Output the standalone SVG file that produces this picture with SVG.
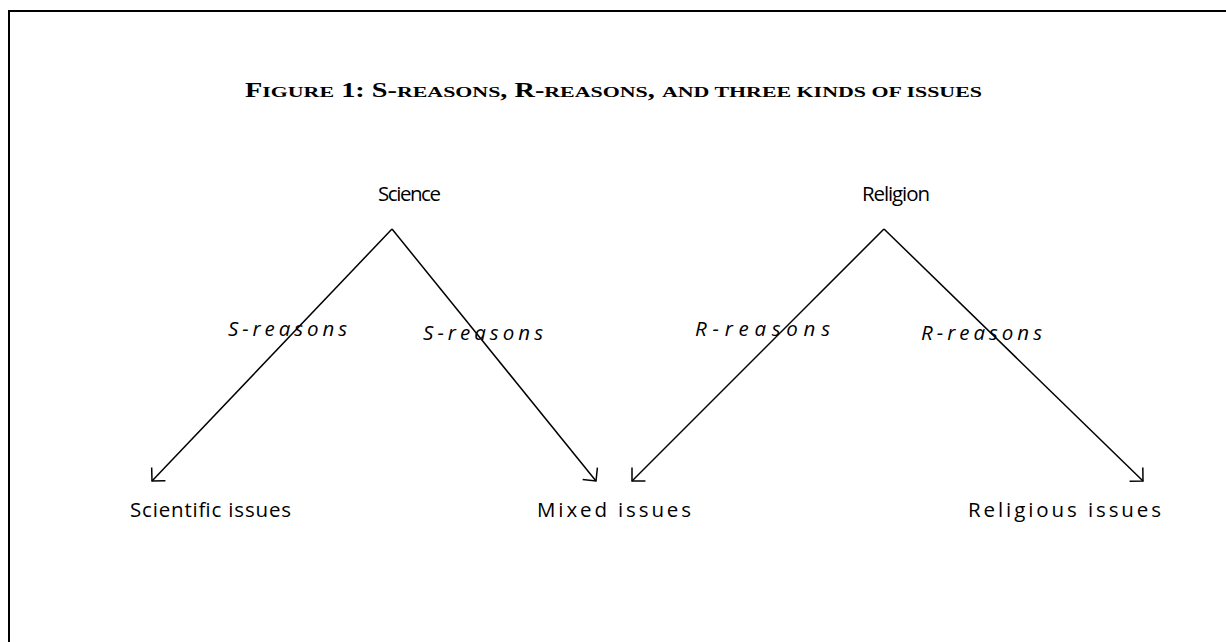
<svg xmlns="http://www.w3.org/2000/svg" width="1226" height="642" viewBox="0 0 1226 642">
  <style>
    .lbl { font-family: "Open Sans", "Noto Sans", sans-serif; font-size: 20.5px; fill: #000; }
    .rsn { font-family: "Open Sans", "Noto Sans", sans-serif; font-size: 20.5px; font-style: italic; fill: #000; }
    .title { font-family: "Liberation Serif", "DejaVu Serif", serif; font-size: 20px; font-weight: bold; fill: #000; }
    .sc { font-size: 15.5px; }
    .edge { stroke: #000; stroke-width: 1.5; fill: none; }
  </style>
  <defs>
    <marker id="arr" markerUnits="userSpaceOnUse" viewBox="-12 -12 14 24" refX="0" refY="0" markerWidth="14" markerHeight="24" orient="auto" overflow="visible">
      <path d="M-9.5,-9.5 L0,0 L-9.5,9.5" fill="none" stroke="#000" stroke-width="1.5"/>
    </marker>
  </defs>
  <rect width="1226" height="642" fill="#fff"/>
  <path d="M9,642 L9,11 L1226,11" fill="none" stroke="#000" stroke-width="2"/>
  <text class="title" x="245" y="97" textLength="737" lengthAdjust="spacingAndGlyphs">F<tspan class="sc">IGURE</tspan> 1: S-<tspan class="sc">REASONS</tspan>, R-<tspan class="sc">REASONS</tspan>, <tspan class="sc">AND THREE KINDS OF ISSUES</tspan></text>

  <g id="connectors">
    <line class="edge" x1="392" y1="229" x2="152" y2="481" marker-end="url(#arr)"/>
    <line class="edge" x1="392" y1="229" x2="596" y2="481" marker-end="url(#arr)"/>
    <line class="edge" x1="884" y1="229" x2="632" y2="481" marker-end="url(#arr)"/>
    <line class="edge" x1="884" y1="229" x2="1143" y2="481" marker-end="url(#arr)"/>
    <text class="rsn" x="228" y="336" textLength="119" lengthAdjust="spacing">S-reasons</text>
    <text class="rsn" x="423" y="340" textLength="120" lengthAdjust="spacing">S-reasons</text>
    <text class="rsn" x="695" y="336" textLength="135" lengthAdjust="spacing">R-reasons</text>
    <text class="rsn" x="921" y="340" textLength="121" lengthAdjust="spacing">R-reasons</text>
  </g>

  <g id="science"><text class="lbl" x="378" y="201" textLength="63" lengthAdjust="spacing">Science</text></g>
  <g id="religion"><text class="lbl" x="862" y="201" textLength="68" lengthAdjust="spacing">Religion</text></g>
  <g id="scientific-issues"><text class="lbl" x="130" y="517" textLength="161" lengthAdjust="spacing">Scientific issues</text></g>
  <g id="mixed-issues"><text class="lbl" x="537" y="517" textLength="154" lengthAdjust="spacing">Mixed issues</text></g>
  <g id="religious-issues"><text class="lbl" x="968" y="517" textLength="193" lengthAdjust="spacing">Religious issues</text></g>
</svg>
